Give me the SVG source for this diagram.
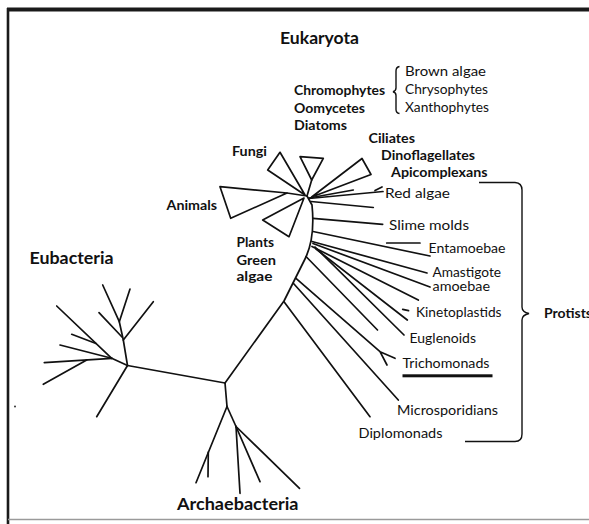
<svg xmlns="http://www.w3.org/2000/svg" width="589" height="524" viewBox="0 0 589 524">
<style>
.ln{fill:none;stroke:#111;stroke-width:1.7;stroke-linecap:round;stroke-linejoin:round}
.tri{fill:#fff;stroke:#111;stroke-width:1.7;stroke-linejoin:round}
.br{fill:none;stroke:#111;stroke-width:1.4}
text{font-family:"Lato","Liberation Sans",sans-serif;fill:#111}
.r{font-size:13px}
.b{font-size:13.5px;font-weight:bold}
.t{font-size:17px;font-weight:bold}
</style>
<rect width="589" height="524" fill="#fff"/>
<!-- frame -->
<g id="frame">
<line x1="7" y1="9.5" x2="589" y2="9.5" stroke="#1a1a1a" stroke-width="4"/>
<line x1="8" y1="8" x2="8" y2="524" stroke="#1a1a1a" stroke-width="2.6"/>
<line x1="8" y1="519.5" x2="589" y2="519.5" stroke="#9a9a9a" stroke-width="1.5"/>
<circle cx="15" cy="406.5" r="1" fill="#333"/>
</g>
<!-- connectors -->
<g id="connectors">
<!-- trunk and main splits -->
<path class="ln" d="M307,196 L312,205 C314,225 312,245 305,259 L284,301 L225,383"/>
<line class="ln" x1="225" y1="383" x2="127.5" y2="365.5"/>
<line class="ln" x1="225" y1="383" x2="227" y2="406.5"/>
<!-- Eubacteria -->
<line class="ln" x1="127.5" y1="365.5" x2="96.7" y2="416.7"/>
<path class="ln" d="M127.5,365.5 L123.3,340 L119.3,321.7 L102.7,285"/>
<line class="ln" x1="119.3" y1="321.7" x2="130" y2="289"/>
<line class="ln" x1="123.3" y1="340" x2="153.3" y2="301.7"/>
<line class="ln" x1="99" y1="312.7" x2="122" y2="337"/>
<line class="ln" x1="127.5" y1="365.5" x2="111.7" y2="358.3"/>
<line class="ln" x1="111.7" y1="358.3" x2="56.7" y2="306"/>
<line class="ln" x1="71.7" y1="334.3" x2="96" y2="343.5"/>
<line class="ln" x1="111.7" y1="358.3" x2="60" y2="345"/>
<line class="ln" x1="111.7" y1="358.3" x2="44.3" y2="362.7"/>
<line class="ln" x1="86.7" y1="360" x2="43.3" y2="384.3"/>
<!-- Archaebacteria -->
<line class="ln" x1="227" y1="406.5" x2="196" y2="482.7"/>
<line class="ln" x1="208.3" y1="452" x2="208" y2="476.7"/>
<line class="ln" x1="227" y1="406.5" x2="236" y2="426.5"/>
<line class="ln" x1="236" y1="426.5" x2="240" y2="493.3"/>
<line class="ln" x1="236" y1="426.5" x2="260" y2="481.7"/>
<line class="ln" x1="236" y1="426.5" x2="299.5" y2="488.3"/>
<!-- eukaryote hub stems -->
<line class="ln" x1="311.7" y1="180" x2="307" y2="196"/>
<line class="ln" x1="287" y1="193" x2="307" y2="196"/>
<!-- protist fan -->
<line class="ln" x1="309" y1="198" x2="353.3" y2="190"/>
<line class="ln" x1="309" y1="198.5" x2="383" y2="191.5"/>
<line class="ln" x1="375" y1="190.5" x2="382" y2="187"/>
<line class="ln" x1="311" y1="201.5" x2="373.3" y2="207.5"/>
<line class="ln" x1="313" y1="218.3" x2="382.7" y2="224.3"/>
<line class="ln" x1="313" y1="231.5" x2="430" y2="256"/>
<line class="ln" x1="386.7" y1="243" x2="420" y2="243"/>
<line class="ln" x1="312" y1="241.5" x2="427" y2="273"/>
<line class="ln" x1="313" y1="243.5" x2="430" y2="287"/>
<line class="ln" x1="312" y1="246.5" x2="418.3" y2="300"/>
<line class="ln" x1="316" y1="249" x2="407.3" y2="320"/>
<line class="ln" x1="402.7" y1="309.3" x2="408.5" y2="310.7"/>
<line class="ln" x1="315" y1="247" x2="404" y2="335"/>
<line class="ln" x1="306" y1="256.5" x2="377.5" y2="330"/>
<path class="ln" d="M296,278.3 L380,351.7 L387,365 M380,351.7 L395,358.3"/>
<line class="ln" x1="293.3" y1="283.3" x2="398.3" y2="400"/>
<line class="ln" x1="284" y1="301.7" x2="370" y2="416.7"/>
</g>
<!-- nodes -->
<g id="eukaryota"><text class="t" x="280" y="44" textLength="79" lengthAdjust="spacingAndGlyphs">Eukaryota</text></g>
<g id="chromophytes">
<polygon class="tri" points="300,156.7 323.3,158.3 311.7,180"/>
<text class="b" x="294" y="95" textLength="91" lengthAdjust="spacingAndGlyphs">Chromophytes</text>
<text class="b" x="294" y="112.5" textLength="71" lengthAdjust="spacingAndGlyphs">Oomycetes</text>
<text class="b" x="294" y="130" textLength="53" lengthAdjust="spacingAndGlyphs">Diatoms</text>
<path class="br" d="M399.5,66.5 Q396,67 396,71 L396,88 Q396,91 393,91.7 Q396,92.5 396,95.5 L396,109.5 Q396,113 399.5,113.5"/>
<text class="r" x="405" y="76" textLength="81" lengthAdjust="spacingAndGlyphs">Brown  algae</text>
<text class="r" x="405" y="94" textLength="83" lengthAdjust="spacingAndGlyphs">Chrysophytes</text>
<text class="r" x="405" y="111.7" textLength="84" lengthAdjust="spacingAndGlyphs">Xanthophytes</text>
</g>
<g id="ciliates">
<polygon class="tri" points="362,158.5 371,174.5 311.7,197"/>
<text class="b" x="368.5" y="142.5" textLength="46.5" lengthAdjust="spacingAndGlyphs">Ciliates</text>
<text class="b" x="381" y="160" textLength="94" lengthAdjust="spacingAndGlyphs">Dinoflagellates</text>
<text class="b" x="391" y="177" textLength="96.5" lengthAdjust="spacingAndGlyphs">Apicomplexans</text>
</g>
<g id="fungi">
<polygon class="tri" points="267.7,170 280,152.3 305,195"/>
<text class="b" x="232" y="156" textLength="35" lengthAdjust="spacingAndGlyphs">Fungi</text>
</g>
<g id="animals">
<polygon class="tri" points="220,186.7 230.7,218.3 287,193"/>
<text class="b" x="166.5" y="210" textLength="50.5" lengthAdjust="spacingAndGlyphs">Animals</text>
</g>
<g id="plants">
<polygon class="tri" points="262.7,220 289,236.7 304,198"/>
<text class="b" x="236.5" y="246.5" textLength="37.5" lengthAdjust="spacingAndGlyphs">Plants</text>
<text class="b" x="236.5" y="264.5" textLength="39.5" lengthAdjust="spacingAndGlyphs">Green</text>
<text class="b" x="236.5" y="281" textLength="36" lengthAdjust="spacingAndGlyphs">algae</text>
</g>
<g id="red-algae"><text class="r" x="385" y="198" textLength="65" lengthAdjust="spacingAndGlyphs">Red  algae</text></g>
<g id="slime-molds"><text class="r" x="389" y="229.5" textLength="80" lengthAdjust="spacingAndGlyphs">Slime  molds</text></g>
<g id="entamoebae"><text class="r" x="428.5" y="253" textLength="77" lengthAdjust="spacingAndGlyphs">Entamoebae</text></g>
<g id="amastigote">
<text class="r" x="432.5" y="276.5" textLength="68.5" lengthAdjust="spacingAndGlyphs">Amastigote</text>
<text class="r" x="432.5" y="291" textLength="57.5" lengthAdjust="spacingAndGlyphs">amoebae</text>
</g>
<g id="kinetoplastids"><text class="r" x="416" y="317" textLength="85.5" lengthAdjust="spacingAndGlyphs">Kinetoplastids</text></g>
<g id="euglenoids"><text class="r" x="409.5" y="342.5" textLength="66.5" lengthAdjust="spacingAndGlyphs">Euglenoids</text></g>
<g id="trichomonads">
<text class="r" x="402.5" y="367.5" textLength="87" lengthAdjust="spacingAndGlyphs">Trichomonads</text>
<rect x="402.5" y="374.3" width="90" height="3" fill="#111"/>
</g>
<g id="microsporidians"><text class="r" x="397" y="415" textLength="101" lengthAdjust="spacingAndGlyphs">Microsporidians</text></g>
<g id="diplomonads"><text class="r" x="358.5" y="438" textLength="84" lengthAdjust="spacingAndGlyphs">Diplomonads</text></g>
<g id="protists">
<path class="br" d="M479,182.5 L515,182.5 Q522,183 522,190 L522,307 Q522,312 529,313.5 Q522,315 522,320 L522,434 Q522,441.5 515,441.5 L465,441.5"/>
<text class="b" x="544" y="318" textLength="48" lengthAdjust="spacingAndGlyphs">Protists</text>
</g>
<g id="eubacteria"><text class="t" x="29.5" y="263.5" textLength="84" lengthAdjust="spacingAndGlyphs">Eubacteria</text></g>
<g id="archaebacteria"><text class="t" x="177" y="510" textLength="121.5" lengthAdjust="spacingAndGlyphs">Archaebacteria</text></g>
</svg>
